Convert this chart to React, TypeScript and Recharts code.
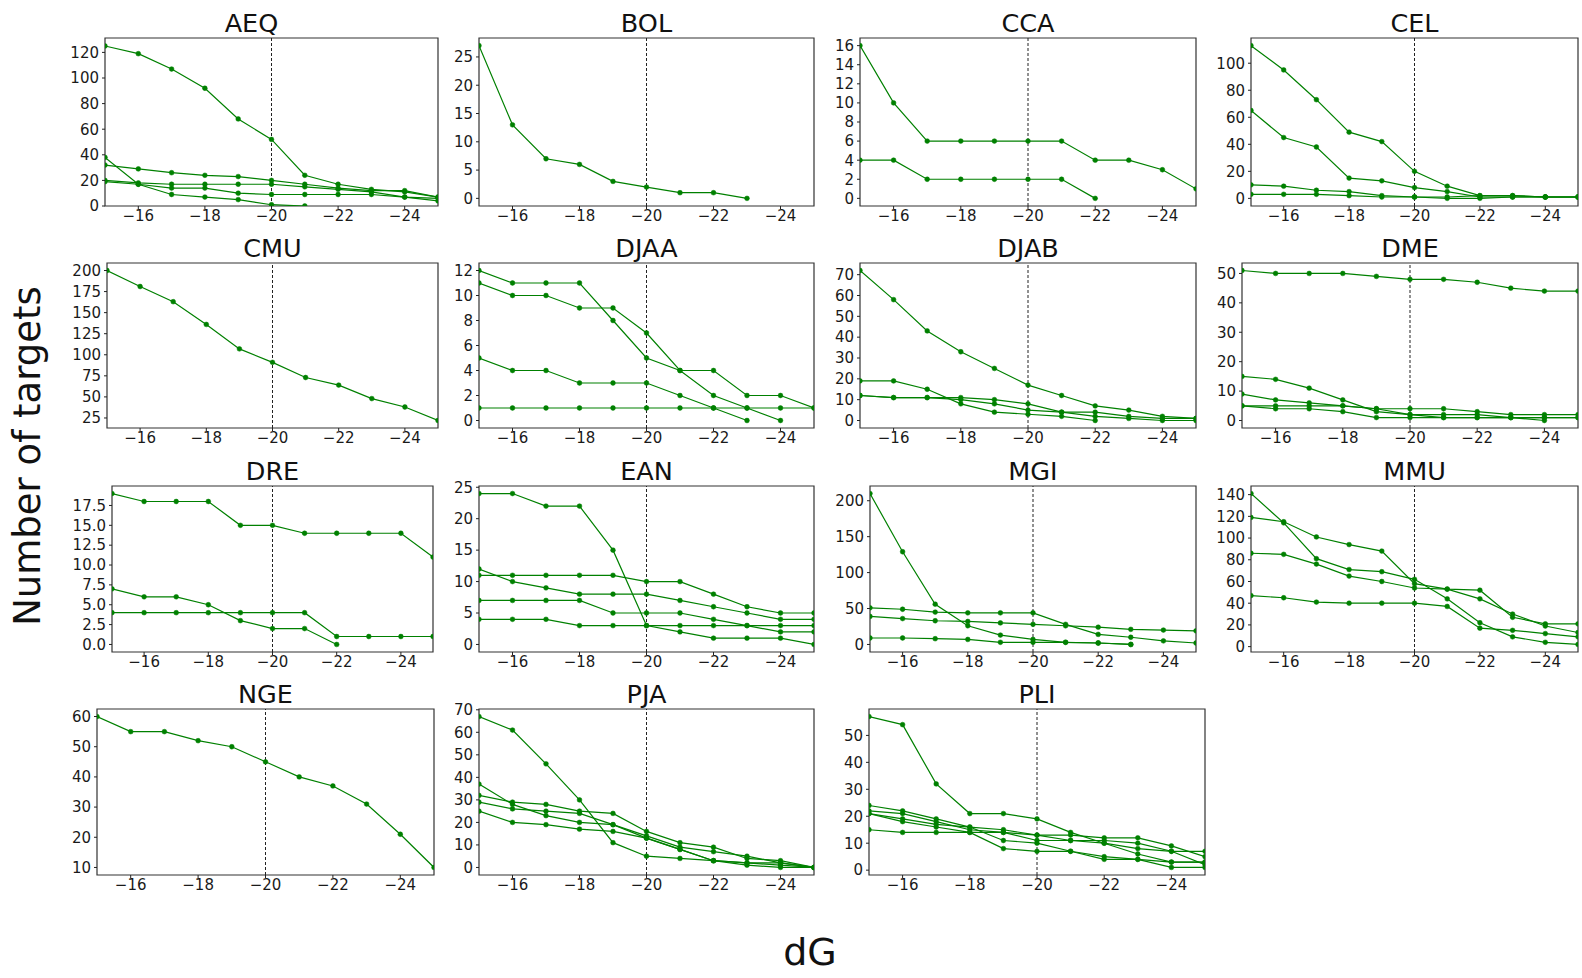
import { LineChart, Line, XAxis, YAxis, ReferenceLine, ReferenceArea } from "recharts";

// binding free energy thresholds (x) shared by every panel
const dG = [-15, -16, -17, -18, -19, -20, -21, -22, -23, -24, -25];
const dGTicks = [-16, -18, -20, -22, -24];
const cutoff = -20;

// number of targets per threshold, one row per curve
const AEQ = [
  [125, 119, 107, 92, 68, 52, 24, 17, 13, 11, 7],
  [38, 17, 9, 7, 5, 1, 0, null, null, null, null],
  [32, 29, 26, 24, 23, 20, 17, 14, 12, 12, 7],
  [20, 18, 17, 17, 17, 17, 15, 13, 11, 7, 4],
  [19, 17, 14, 14, 10, 9, 9, 9, 9, 7, 6],
];
const BOL = [[27, 13, 7, 6, 3, 2, 1, 1, 0, null, null]];
const CCA = [
  [16, 10, 6, 6, 6, 6, 6, 4, 4, 3, 1],
  [4, 4, 2, 2, 2, 2, 2, 0, null, null, null],
];
const CEL = [
  [113, 95, 73, 49, 42, 20, 9, 2, 2, 1, 1],
  [65, 45, 38, 15, 13, 8, 5, 1, 1, 1, 1],
  [10, 9, 6, 5, 2, 1, 1, 2, 2, 1, 1],
  [3, 3, 3, 2, 1, 1, 0, 0, 1, 1, 1],
];
const CMU = [[200, 181, 163, 136, 107, 91, 73, 64, 48, 38, 22]];
const DJAA = [
  [12, 11, 11, 11, 8, 5, 4, 2, 1, 0, null],
  [11, 10, 10, 9, 9, 7, 4, 4, 2, 2, 1],
  [5, 4, 4, 3, 3, 3, 2, 1, 0, null, null],
  [1, 1, 1, 1, 1, 1, 1, 1, 1, 1, 1],
];
const DJAB = [
  [72, 58, 43, 33, 25, 17, 12, 7, 5, 2, 1],
  [19, 19, 15, 8, 4, 3, 2, 0, null, null, null],
  [12, 11, 11, 11, 10, 8, 4, 4, 2, 1, 1],
  [12, 11, 11, 10, 8, 5, 4, 2, 1, 0, 0],
];
const DME = [
  [51, 50, 50, 50, 49, 48, 48, 47, 45, 44, 44],
  [15, 14, 11, 7, 3, 2, 2, 2, 1, 0, null],
  [9, 7, 6, 5, 4, 2, 1, 1, 1, 1, 1],
  [5, 5, 5, 5, 4, 4, 4, 3, 2, 2, 2],
  [5, 4, 4, 3, 1, 1, 1, 1, 1, 1, 1],
];
const DRE = [
  [19, 18, 18, 18, 15, 15, 14, 14, 14, 14, 11],
  [7, 6, 6, 5, 3, 2, 2, 0, null, null, null],
  [4, 4, 4, 4, 4, 4, 4, 1, 1, 1, 1],
];
const EAN = [
  [24, 24, 22, 22, 15, 3, 2, 1, 1, 1, 0],
  [11, 11, 11, 11, 11, 10, 10, 8, 6, 5, 5],
  [12, 10, 9, 8, 8, 8, 7, 6, 5, 4, 4],
  [7, 7, 7, 7, 5, 5, 5, 4, 3, 2, 2],
  [4, 4, 4, 3, 3, 3, 3, 3, 3, 3, 3],
];
const MGI = [
  [210, 129, 56, 26, 13, 7, 3, 2, 0, null, null],
  [51, 49, 45, 44, 44, 44, 28, 14, 10, 5, 2],
  [39, 36, 33, 32, 30, 28, 26, 24, 21, 20, 19],
  [9, 9, 8, 7, 3, 3, 3, 2, 0, null, null],
];
const MMU = [
  [141, 114, 81, 71, 69, 62, 44, 22, 9, 4, 2],
  [119, 115, 101, 94, 88, 58, 53, 52, 27, 21, 21],
  [86, 85, 76, 65, 60, 54, 53, 44, 30, 19, 13],
  [47, 45, 41, 40, 40, 40, 37, 17, 15, 12, 9],
];
const NGE = [[60, 55, 55, 52, 50, 45, 40, 37, 31, 21, 10]];
const PJA = [
  [67, 61, 46, 30, 11, 5, 4, 3, 1, 0, 0],
  [37, 28, 23, 20, 19, 13, 8, 3, 2, 1, 0],
  [32, 29, 28, 25, 24, 16, 11, 9, 4, 3, 0],
  [29, 26, 25, 24, 19, 14, 9, 7, 5, 2, 0],
  [25, 20, 19, 17, 16, 13, 8, 3, 2, 2, 0],
];
const PLI = [
  [57, 54, 32, 21, 21, 19, 14, 10, 6, 3, 3],
  [24, 22, 19, 16, 15, 13, 13, 12, 12, 9, 5],
  [22, 21, 18, 15, 14, 13, 11, 11, 10, 7, 2],
  [21, 19, 17, 16, 11, 10, 7, 5, 4, 3, 3],
  [21, 18, 16, 14, 8, 7, 7, 4, 4, 1, 1],
  [15, 14, 14, 14, 14, 11, 11, 10, 8, 7, 7],
];

const panels = [
  { name: "AEQ", series: AEQ, ticks: [0, 20, 40, 60, 80, 100, 120], floor: 0 },
  { name: "BOL", series: BOL, ticks: [0, 5, 10, 15, 20, 25] },
  { name: "CCA", series: CCA, ticks: [0, 2, 4, 6, 8, 10, 12, 14, 16] },
  { name: "CEL", series: CEL, ticks: [0, 20, 40, 60, 80, 100] },
  { name: "CMU", series: CMU, ticks: [25, 50, 75, 100, 125, 150, 175, 200] },
  { name: "DJAA", series: DJAA, ticks: [0, 2, 4, 6, 8, 10, 12] },
  { name: "DJAB", series: DJAB, ticks: [0, 10, 20, 30, 40, 50, 60, 70] },
  { name: "DME", series: DME, ticks: [0, 10, 20, 30, 40, 50] },
  { name: "DRE", series: DRE, ticks: [0, 2.5, 5, 7.5, 10, 12.5, 15, 17.5], decimals: 1 },
  { name: "EAN", series: EAN, ticks: [0, 5, 10, 15, 20, 25] },
  { name: "MGI", series: MGI, ticks: [0, 50, 100, 150, 200] },
  { name: "MMU", series: MMU, ticks: [0, 20, 40, 60, 80, 100, 120, 140] },
  { name: "NGE", series: NGE, ticks: [10, 20, 30, 40, 50, 60] },
  { name: "PJA", series: PJA, ticks: [0, 10, 20, 30, 40, 50, 60, 70] },
  { name: "PLI", series: PLI, ticks: [0, 10, 20, 30, 40, 50] },
];

// plot box of each panel: left, top, width, height, title shift (px)
const layout: Record<string, number[]> = {
  AEQ: [105, 38, 333, 168, -20],
  BOL: [479, 38, 335, 168],
  CCA: [860, 38, 336, 168],
  CEL: [1251, 38, 327, 168],
  CMU: [107, 263, 331, 165],
  DJAA: [479, 263, 335, 165],
  DJAB: [860, 263, 336, 165],
  DME: [1242, 263, 336, 165],
  DRE: [112, 486, 321, 166],
  EAN: [479, 486, 335, 166],
  MGI: [870, 486, 326, 166],
  MMU: [1251, 486, 327, 166],
  NGE: [97, 709, 337, 166],
  PJA: [479, 709, 335, 166],
  PLI: [869, 709, 336, 166],
};

const GREEN = "#008000";
const FONT = "DejaVu Sans";
const GUTTER = 70;
const TOP = 10;
const BOTTOM = 30;

const minus = (v: number) => (v < 0 ? "\u2212" + Math.abs(v) : String(v));

function yDomain(series: (number | null)[][], floor?: number): [number, number] {
  const vals = series.flat().filter((v): v is number => v !== null);
  const lo = Math.min(...vals);
  const hi = Math.max(...vals);
  const pad = (hi - lo) * 0.05;
  return [floor !== undefined ? floor : lo - pad, hi + pad];
}

function Panel({ p }: { p: (typeof panels)[number] }) {
  const [left, top, w, h, shift = 0] = layout[p.name];
  const data = dG.map((x, i) => {
    const row: Record<string, number | null> = { dG: x };
    p.series.forEach((s, k) => (row["s" + k] = s[i]));
    return row;
  });
  const dom = yDomain(p.series, (p as any).floor);
  const dec = (p as any).decimals || 0;
  return (
    <>
      <div
        style={{
          position: "absolute",
          left: left + shift,
          top: top - 30,
          width: w,
          textAlign: "center",
          fontSize: 25.5,
          lineHeight: "30px",
          color: "#111",
        }}
      >
        {p.name}
      </div>
      <div style={{ position: "absolute", left: left - GUTTER, top: top - TOP }}>
        <LineChart
          width={w + GUTTER + 4}
          height={h + TOP + BOTTOM}
          data={data}
          margin={{ top: TOP, right: 4, left: 0, bottom: 0 }}
        >
          <XAxis
            dataKey="dG"
            type="number"
            domain={[-25, -15]}
            reversed
            ticks={dGTicks}
            tickFormatter={minus}
            axisLine={false}
            tickLine={{ stroke: "#222" }}
            tickSize={3}
            tickMargin={1}
            height={BOTTOM}
            tick={{ fill: "#1a1a1a", fontSize: 15, fontFamily: FONT }}
            allowDataOverflow
          />
          <YAxis
            type="number"
            domain={dom}
            ticks={p.ticks}
            tickFormatter={(v: number) => v.toFixed(dec)}
            axisLine={false}
            tickLine={{ stroke: "#222" }}
            tickSize={3}
            tickMargin={3}
            width={GUTTER}
            tick={{ fill: "#1a1a1a", fontSize: 15, fontFamily: FONT }}
            allowDataOverflow
            interval={0}
          />
          <ReferenceLine x={cutoff} stroke="#222" strokeDasharray="3 2" strokeWidth={1} ifOverflow="visible" />
          {p.series.map((_, k) => (
            <Line
              key={k}
              dataKey={"s" + k}
              type="linear"
              stroke={GREEN}
              strokeWidth={1.2}
              dot={{ r: 2.4, fill: GREEN, stroke: GREEN, strokeWidth: 0.5 }}
              isAnimationActive={false}
              connectNulls={false}
            />
          ))}
          <ReferenceArea
            x1={-25}
            x2={-15}
            y1={dom[0]}
            y2={dom[1]}
            fill="none"
            stroke="#333"
            strokeWidth={1.2}
            ifOverflow="visible"
          />
        </LineChart>
      </div>
    </>
  );
}

export default function App() {
  return (
    <div
      style={{
        position: "absolute",
        left: 0,
        top: 0,
        width: 1582,
        height: 978,
        background: "#fff",
        fontFamily: FONT,
        overflow: "hidden",
      }}
    >
      {panels.map((p) => (
        <Panel key={p.name} p={p} />
      ))}
      <div
        style={{
          position: "absolute",
          left: 28,
          top: 456,
          transform: "translate(-50%, -50%) rotate(-90deg)",
          whiteSpace: "nowrap",
          fontSize: 37,
          lineHeight: "44px",
          color: "#111",
        }}
      >
        Number of targets
      </div>
      <div
        style={{
          position: "absolute",
          left: 0,
          width: 1620,
          top: 930,
          textAlign: "center",
          fontSize: 38,
          lineHeight: "44px",
          color: "#111",
        }}
      >
        dG
      </div>
    </div>
  );
}
